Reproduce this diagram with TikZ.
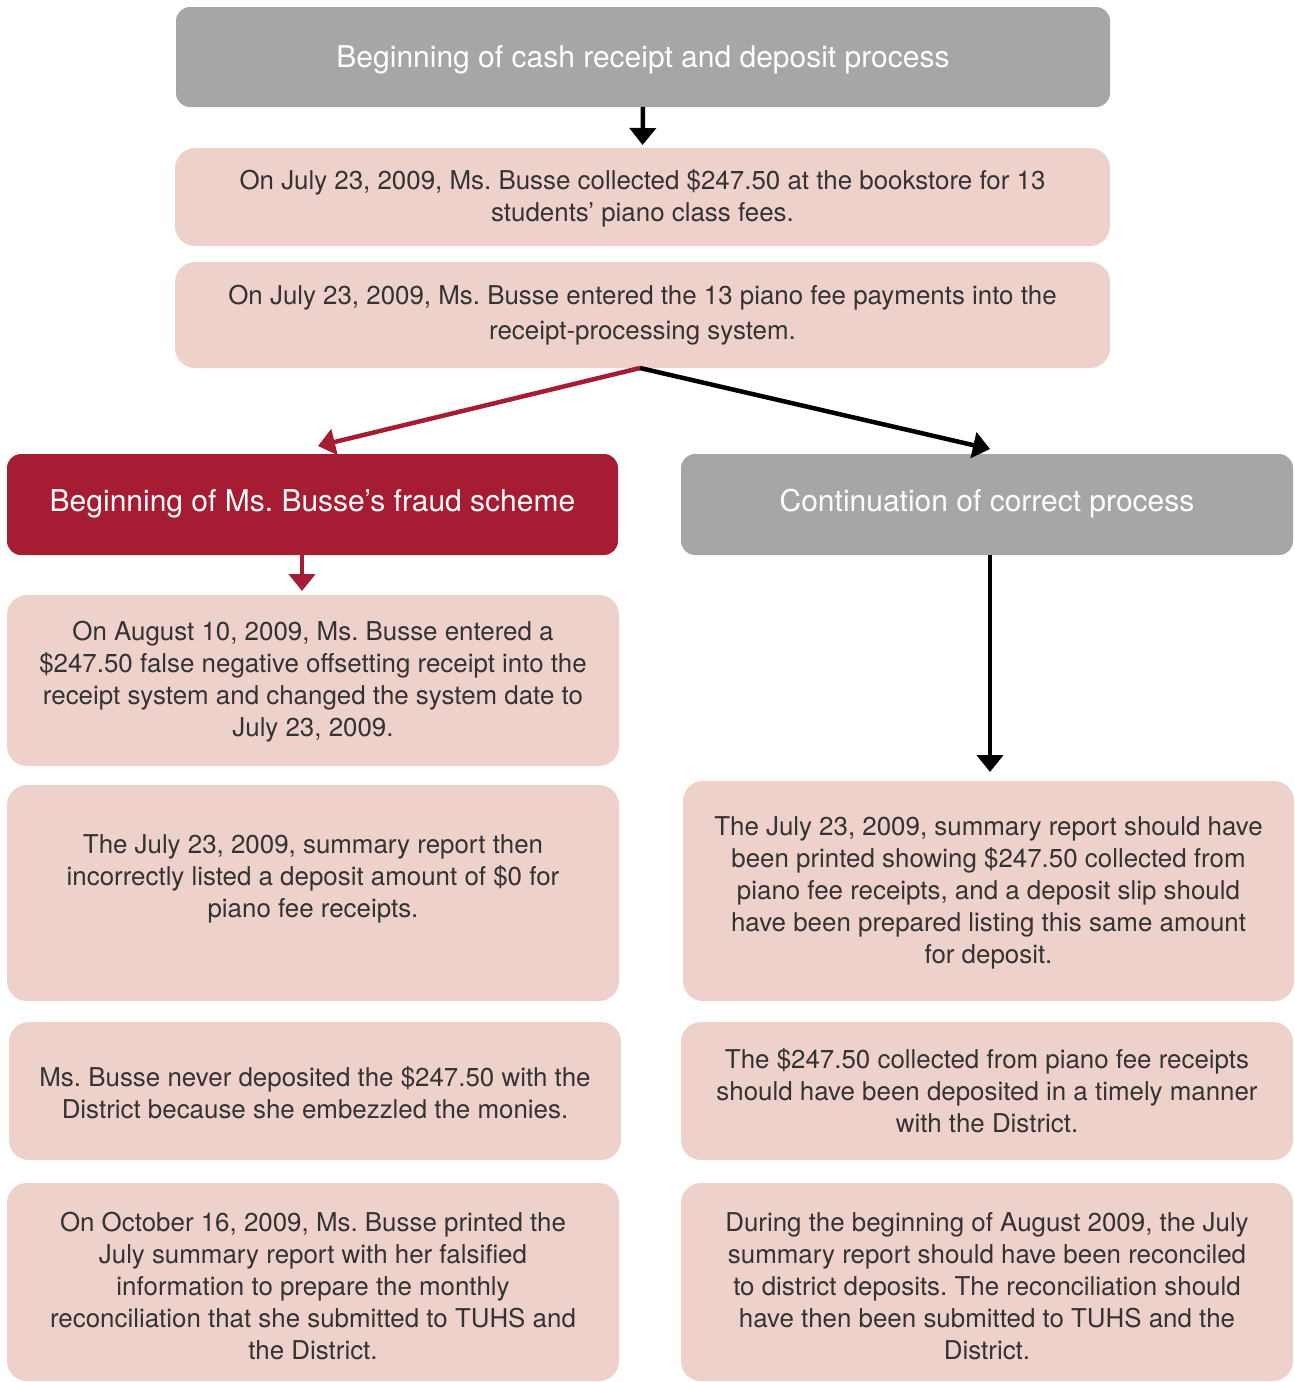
\documentclass[tikz,border=0pt]{standalone}
\usepackage{fontspec}
\setmainfont{TeX Gyre Heros}
\usetikzlibrary{arrows.meta}
\definecolor{boxpink}{HTML}{EFD1CB}
\definecolor{boxgray}{HTML}{A6A6A6}
\definecolor{boxred}{HTML}{A61C33}
\definecolor{bodytxt}{HTML}{333333}
\frenchspacing
\begin{document}
\begin{tikzpicture}[x=1pt,y=-1pt,
  shapebox/.style={rounded corners=14pt, inner sep=0pt, outer sep=0pt},
  pinkbox/.style={shapebox, fill=boxpink, rounded corners=20pt},
  graybox/.style={shapebox, fill=boxgray},
  redbox/.style={shapebox, fill=boxred},
  titletext/.style={text=white, align=center, font=\fontsize{30}{34}\selectfont\frenchspacing},
  bodytext/.style={text=bodytxt, align=center, inner sep=0pt, font=\fontsize{25.9}{32}\selectfont\frenchspacing},
  tip/.style={-{Triangle[width=26pt,length=17pt]}, line width=4.5pt},
  blkarrow/.style={tip, draw=black},
  redarrow/.style={tip, draw=boxred}
]
\useasboundingbox (0,0) rectangle (1294,1382);

% top row
\node[graybox, minimum width=934pt, minimum height=100pt] (top) at (643,57) {};
\node[titletext] (topt) at (643,60) {Beginning of cash receipt and deposit process};

\node[pinkbox, minimum width=935pt, minimum height=98pt] (p1) at (642.5,197) {};
\node[bodytext] (p1t) at (642.5,198) {On July 23, 2009, Ms. Busse collected \$247.50 at the bookstore for 13\\students’ piano class fees.};

\node[pinkbox, minimum width=935pt, minimum height=106pt] (p2) at (642.5,315) {};
\node[bodytext, font=\fontsize{25.9}{35}\selectfont\frenchspacing] (p2t) at (642.5,315) {On July 23, 2009, Ms. Busse entered the 13 piano fee payments into the\\receipt-processing system.};

% second row headers
\node[redbox, minimum width=611pt, minimum height=101pt] (fraud) at (312.5,504.5) {};
\node[titletext] (fraudt) at (312.5,504) {Beginning of Ms. Busse’s fraud scheme};

\node[graybox, minimum width=612pt, minimum height=101pt] (corr) at (987,504.5) {};
\node[titletext] (corrt) at (987,504) {Continuation of correct process};

% left column
\node[pinkbox, minimum width=612pt, minimum height=171pt] (l1) at (313,680.5) {};
\node[bodytext] (l1t) at (313,682) {On August 10, 2009, Ms. Busse entered a\\\$247.50 false negative offsetting receipt into the\\receipt system and changed the system date to\\July 23, 2009.};

\node[pinkbox, minimum width=612pt, minimum height=216pt] (l2) at (313,893) {};
\node[bodytext] (l2t) at (313,879) {The July 23, 2009, summary report then\\incorrectly listed a deposit amount of \$0 for\\piano fee receipts.};

\node[pinkbox, minimum width=612pt, minimum height=138pt] (l3) at (315,1091) {};
\node[bodytext] (l3t) at (315,1093) {Ms. Busse never deposited the \$247.50 with the\\District because she embezzled the monies.};

\node[pinkbox, minimum width=612pt, minimum height=198pt] (l4) at (313,1282) {};
\node[bodytext] (l4t) at (313,1286) {On October 16, 2009, Ms. Busse printed the\\July summary report with her falsified\\information to prepare the monthly\\reconciliation that she submitted to TUHS and\\the District.};

% right column
\node[pinkbox, minimum width=611pt, minimum height=220pt] (r1) at (988.5,891) {};
\node[bodytext] (r1t) at (988.5,893) {The July 23, 2009, summary report should have\\been printed showing \$247.50 collected from\\piano fee receipts, and a deposit slip should\\have been prepared listing this same amount\\for deposit.};

\node[pinkbox, minimum width=612pt, minimum height=138pt] (r2) at (987,1091) {};
\node[bodytext] (r2t) at (987,1091) {The \$247.50 collected from piano fee receipts\\should have been deposited in a timely manner\\with the District.};

\node[pinkbox, minimum width=612pt, minimum height=198pt] (r3) at (987,1282) {};
\node[bodytext] (r3t) at (987,1286) {During the beginning of August 2009, the July\\summary report should have been reconciled\\to district deposits. The reconciliation should\\have then been submitted to TUHS and the\\District.};

% connectors
\draw[blkarrow, shorten >=3pt] (top.south) -- (p1.north);

\coordinate (split) at (640,368);
\coordinate (redtip) at (318,446);
\coordinate (blktip) at (990,449);
\draw[redarrow] (split) -- (redtip);
\draw[blkarrow] (split) -- (blktip);

\draw[redarrow, shorten >=4pt] ([xshift=-10.5pt]fraud.south) -- ([xshift=-11pt]l1.north);
\draw[blkarrow, shorten >=9pt] ([xshift=3pt]corr.south) -- ([xshift=1.5pt]r1.north);
\end{tikzpicture}
\end{document}
